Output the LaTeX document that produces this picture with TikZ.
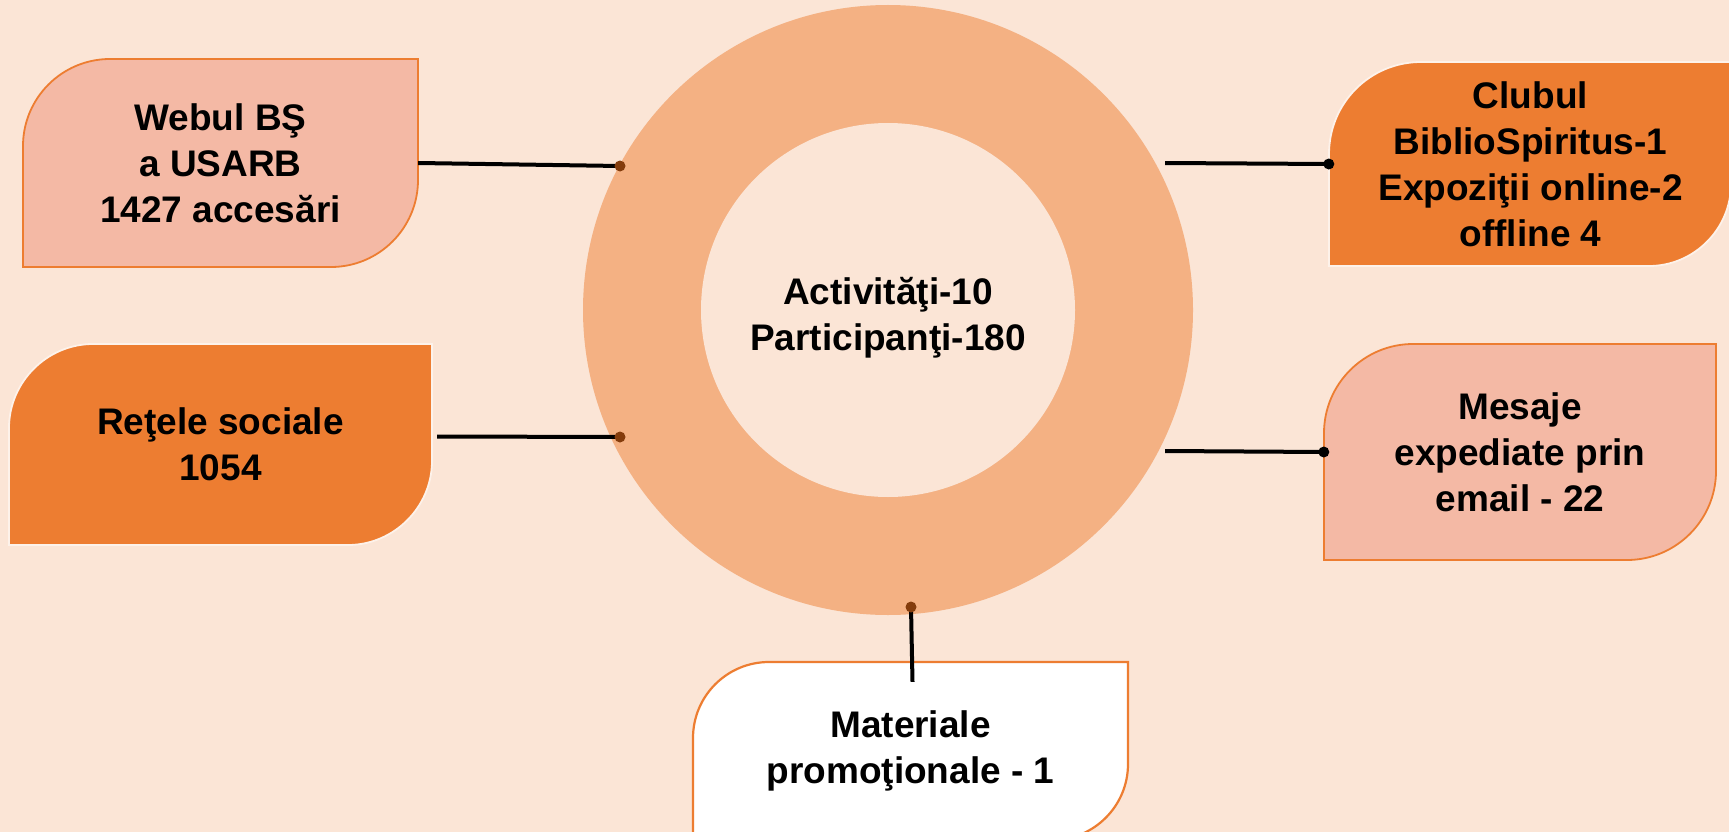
\documentclass[tikz,border=0pt]{standalone}
\usepackage{fontspec}
\setmainfont{Liberation Sans}

\definecolor{bgpeach}{HTML}{FBE5D6}
\definecolor{ringpeach}{HTML}{F4B183}
\definecolor{salmon}{HTML}{F4B9A5}
\definecolor{deeporange}{HTML}{ED7D31}
\definecolor{dotbrown}{HTML}{843C0C}

\tikzset{
    lightleaf/.style={fill=salmon, draw=deeporange, line width=1.8pt},
    darkleaf/.style={fill=deeporange, draw=bgpeach!50!white, line width=1.8pt},
    whiteleaf/.style={fill=white, draw=deeporange, line width=2.2pt},
    boxtext/.style={font=\bfseries\fontsize{37}{46}\selectfont, align=center, inner sep=0pt},
    wire/.style={line width=4pt},
}

\begin{document}
\begin{tikzpicture}[x=1pt, y=-1pt]
    \useasboundingbox (0,0) rectangle (1729,832);
    \clip (0,0) rectangle (1729,832);
    \fill[bgpeach] (0,0) rectangle (1729,832);

    % First the ring in the middle
    \fill[ringpeach] (888,310) circle[radius=305pt];
    \fill[bgpeach] (888,310) circle[radius=187pt];

    % Now the boxes, rounded at two opposite corners
    \draw[lightleaf] (23,267) -- (23,146) .. controls (23,98) and (62,59) .. (110,59)
        -- (418,59) -- (418,180) .. controls (418,228) and (379,267) .. (331,267) -- cycle;
    \draw[darkleaf] (9,545) -- (9,428) .. controls (9,382) and (47,344) .. (93,344)
        -- (432,344) -- (432,461) .. controls (432,507) and (394,545) .. (348,545) -- cycle;
    \draw[darkleaf] (1329,266) -- (1329,154) .. controls (1329,103) and (1370,62) .. (1421,62)
        -- (1731,62) -- (1731,184) .. controls (1731,229) and (1694,266) .. (1649,266) -- cycle;
    \draw[lightleaf] (1324,560) -- (1324,433) .. controls (1324,384) and (1364,344) .. (1413,344)
        -- (1716,344) -- (1716,471) .. controls (1716,520) and (1676,560) .. (1627,560) -- cycle;
    \draw[whiteleaf] (693,840) -- (693,738) .. controls (693,696) and (727,662) .. (769,662)
        -- (1128,662) -- (1128,764) .. controls (1128,806) and (1094,840) .. (1052,840) -- cycle;

    % The texts
    \node[boxtext] (hub) at (888,318) {Activităţi-10\\Participanţi-180};
    \node[boxtext, minimum width=395pt, minimum height=208pt] (web) at (220.5,163) {Webul BŞ\\a USARB\\1427 accesări};
    \node[boxtext, minimum width=423pt, minimum height=201pt] (ret) at (220.5,444.5) {Reţele sociale\\1054};
    \node[boxtext, minimum width=403pt, minimum height=204pt] (club) at (1530.5,164) {Clubul\\BiblioSpiritus-1\\Expoziţii online-2\\offline 4};
    \node[boxtext, minimum width=392pt, minimum height=216pt] (mes) at (1520,452) {Mesaje\\expediate prin\\email - 22};
    \node[boxtext, minimum width=435pt, minimum height=178pt] (mat) at (910.5,751) {Materiale\\promoţionale - 1};

    % Now the links to the ring
    \coordinate (dweb) at (620,166);
    \coordinate (dret) at (620,437);
    \coordinate (dmat) at (911,607);
    \coordinate (fclub) at (1165,163);
    \coordinate (fmes) at (1165,451);

    \draw[wire] (web.east) -- (dweb);
    \draw[wire] ([xshift=5pt, yshift=8pt]ret.east) -- (dret);
    \draw[wire] (dmat) -- ([xshift=2pt, yshift=-20pt]mat.north);
    \draw[wire] (fclub) -- (club.west);
    \draw[wire] (fmes) -- (mes.west);

    \fill[dotbrown] (dweb) circle[radius=5.5pt];
    \fill[dotbrown] (dret) circle[radius=5.5pt];
    \fill[dotbrown] (dmat) circle[radius=5.5pt];
    \fill (club.west) circle[radius=5.5pt];
    \fill (mes.west) circle[radius=5.5pt];
\end{tikzpicture}
\end{document}
